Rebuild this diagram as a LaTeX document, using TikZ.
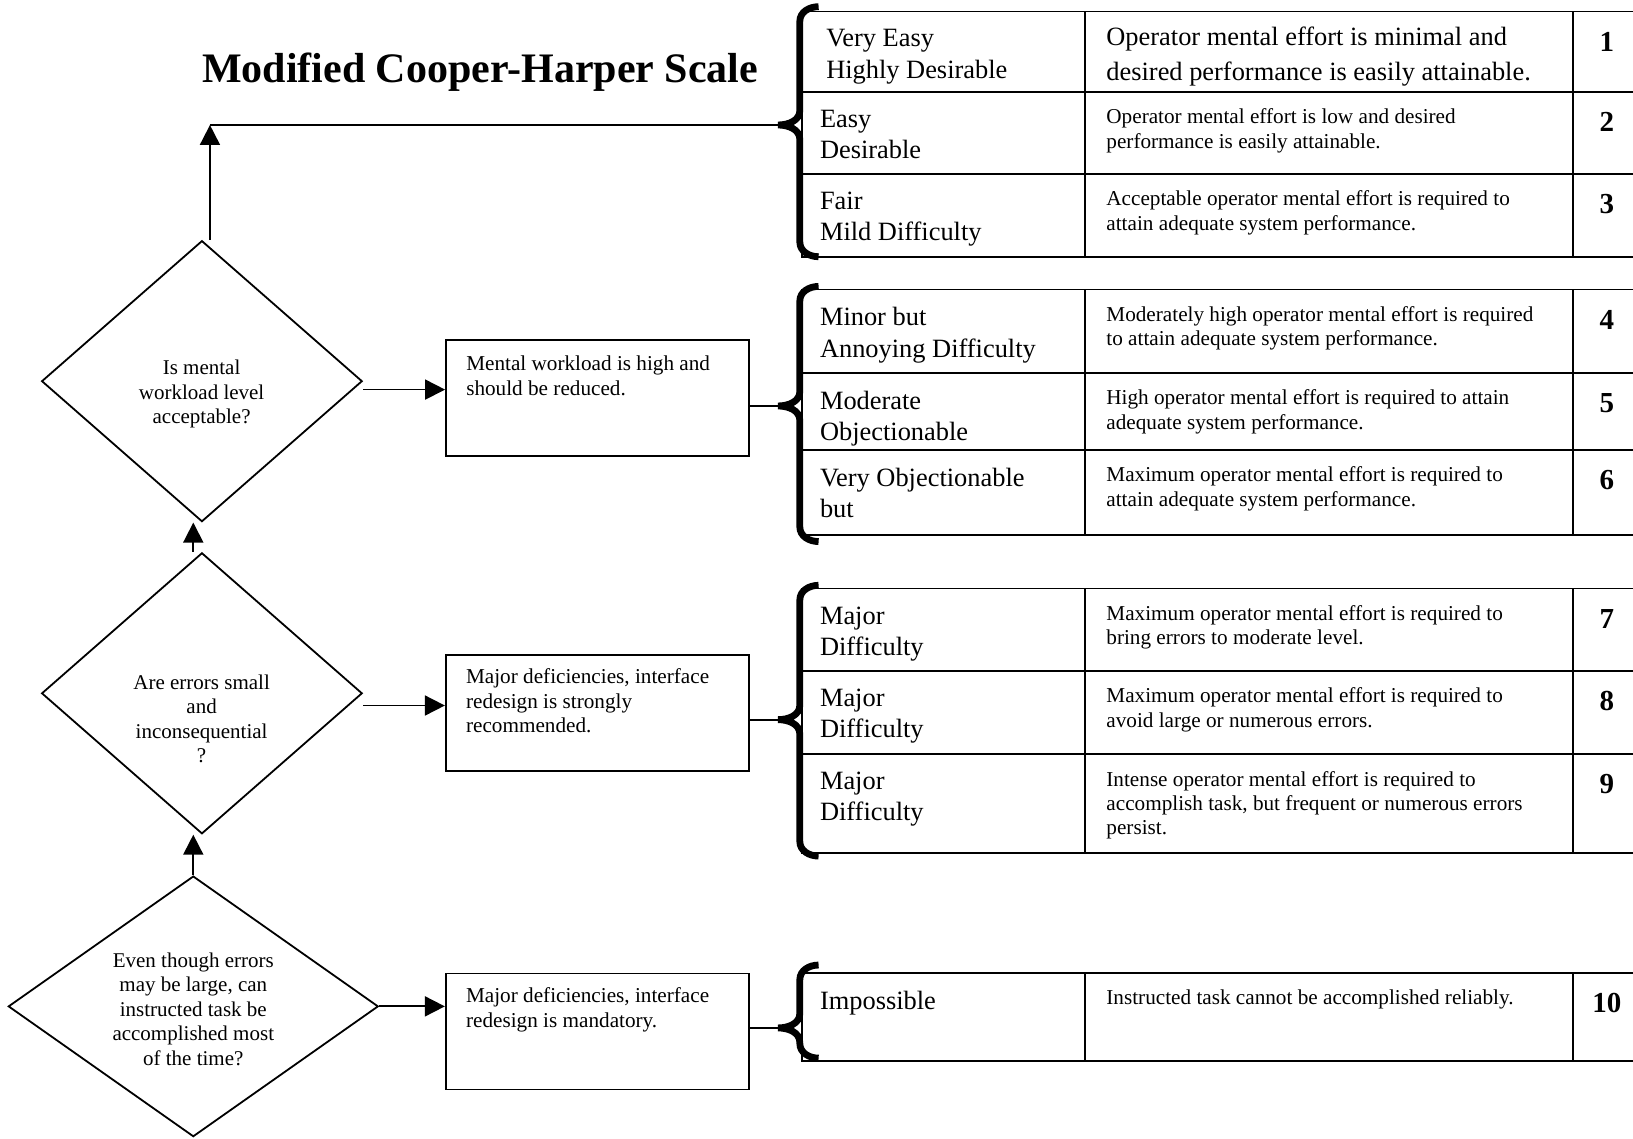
\documentclass[tikz,border=0pt]{standalone}
\usepackage{fontspec}
\setmainfont{Liberation Serif}
\usetikzlibrary{arrows.meta,positioning,shapes.geometric}
\tikzstyle{mchline}=[line width=0.9pt]
\tikzstyle{mcharrow}=[mchline,-{Triangle[length=10pt,width=10pt]}]
\tikzstyle{mchdiamond}=[diamond,draw,line width=0.9pt,inner sep=0pt]
\tikzstyle{mchbox}=[draw,line width=0.9pt,minimum width=151.5pt,minimum height=58pt,inner sep=0pt]
\tikzstyle{qtext}=[align=center,inner sep=0pt,font=\fontsize{10.5}{12.25}\selectfont]
\tikzstyle{btext}=[align=left,inner sep=0pt,font=\fontsize{10.6}{12.2}\selectfont]
\tikzstyle{ratetext}=[align=left,inner sep=0pt,anchor=north west,font=\fontsize{13.2}{15.6}\selectfont]
\tikzstyle{desctext}=[align=left,inner sep=0pt,anchor=north west,font=\fontsize{10.6}{12.2}\selectfont]
\tikzstyle{numtext}=[inner sep=0pt,font=\fontsize{14.5}{16}\selectfont\bfseries]
\tikzstyle{bracket}=[line width=3.4pt]

\begin{document}
\begin{tikzpicture}[x=0.52075pt,y=-0.52075pt]
    \useasboundingbox (0,0) rectangle (1568,1093);
    \node[font=\fontsize{21}{25}\selectfont\bfseries] (title) at (461,69) {Modified Cooper-Harper Scale};
    % decision chain
    \node[mchdiamond,minimum width=160.3pt,minimum height=140.5pt] (d1) at (193.9,366) {};
    \node[mchdiamond,minimum width=160.3pt,minimum height=140.5pt] (d2) at (193.9,665.7) {};
    \node[mchdiamond,minimum width=185pt,minimum height=130.3pt] (d3) at (185.6,966.3) {};
    \node[qtext] (q1) at (193.6,378.7) {Is mental\\workload level\\acceptable?};
    \node[qtext] (q2) at (193.6,690) {Are errors small\\and\\inconsequential\\?};
    \node[qtext] (q3) at (185.6,968.9) {Even though errors\\may be large, can\\instructed task be\\accomplished most\\of the time?};
    \node[mchbox] (b1) at (573.7,382.2) {};
    \node[mchbox] (b2) at (573.5,684.5) {};
    \node[mchbox] (b3) at (573.5,990.5) {};
    \node[btext,below right=8.3pt and 10.4pt of b1.north west] (b1text) {Mental workload is high and\\should be reduced.};
    \node[btext,below right=7.3pt and 10.4pt of b2.north west] (b2text) {Major deficiencies, interface\\redesign is strongly\\recommended.};
    \node[btext,below right=7.3pt and 10.4pt of b3.north west] (b3text) {Major deficiencies, interface\\redesign is mandatory.};
    % rating table
    \draw[mchline] (770,11) rectangle (1510,88) (1042,11) -- (1042,88) (1510,11) -- (1568,11) (1510,88) -- (1568,88);
    \node[ratetext] (rate1) at (793,28) {Very Easy\\Highly Desirable};
    \node[ratetext,font=\fontsize{13.2}{17.7}\selectfont] (desc1) at (1062,25) {Operator mental effort is minimal and\\desired performance is easily attainable.};
    \node[numtext] (num1) at (1543,40) {1};
    \foreach \rtop/\rbot/\rate/\desc/\num in {
        88/167/{Easy\\Desirable}/{Operator mental effort is low and desired\\performance is easily attainable.}/2,
        167/247/{Fair\\Mild Difficulty}/{Acceptable operator mental effort is required to\\attain adequate system performance.}/3,
        278/358/{Minor but\\Annoying Difficulty}/{Moderately high operator mental effort is required\\to attain adequate system performance.}/4,
        358/432/{Moderate\\Objectionable}/{High operator mental effort is required to attain\\adequate system performance.}/5,
        432/514/{Very Objectionable\\but}/{Maximum operator mental effort is required to\\attain adequate system performance.}/6,
        565/644/{Major\\Difficulty}/{Maximum operator mental effort is required to\\bring errors to moderate level.}/7,
        644/724/{Major\\Difficulty}/{Maximum operator mental effort is required to\\avoid large or numerous errors.}/8,
        724/819/{Major\\Difficulty}/{Intense operator mental effort is required to\\accomplish task, but frequent or numerous errors\\persist.}/9,
        934/1019/{Impossible}/{Instructed task cannot be accomplished reliably.}/10}
    {
        \draw[mchline] (770,\rtop) rectangle (1510,\rbot) (1042,\rtop) -- (1042,\rbot) (1510,\rtop) -- (1568,\rtop) (1510,\rbot) -- (1568,\rbot);
        \node[ratetext] (rate\num) at (787,\rtop+17) {\rate};
        \node[desctext] (desc\num) at (1062,\rtop+16) {\desc};
        \node[numtext] (num\num) at (1543,\rtop+29) {\num};
    }
    % braces
    \foreach \btop/\bmid/\bbot [count=\k] in {6.4/120/246.5, 275/389.8/520, 562/691/822, 926.6/987/1016} {
        \coordinate (tip\k) at (747,\bmid);
        \draw[bracket] (786,\btop) to[out=180,in=90] (768,\btop+14) -- (768,\bmid-14) to[out=270,in=0] (tip\k)
            to[out=0,in=90] (768,\bmid+14) -- (768,\bbot-14) to[out=270,in=180] (786,\bbot);
    }
    % connectors
    \coordinate (turn) at (201.6,120);
    \draw[mcharrow] (turn |- d1.north) -- (turn);
    \draw[mchline] (turn) -- (tip1);
    \draw[mcharrow] (d2.north -| d3.north) -- (d3.north |- d1.south);
    \draw[mcharrow] (d3.north) -- (d3.north |- d2.south);
    \coordinate (a1) at ([yshift=-4.2pt]d1.east);
    \coordinate (a2) at ([yshift=-6.1pt]d2.east);
    \draw[mcharrow] (a1) -- (a1 -| b1.west);
    \draw[mcharrow] (a2) -- (a2 -| b2.west);
    \draw[mcharrow] (d3.east) -- (d3.east -| b3.west);
    \draw[mchline] (b1.east |- tip2) -- (tip2);
    \draw[mchline] (b2.east |- tip3) -- (tip3);
    \draw[mchline] (b3.east |- tip4) -- (tip4);
\end{tikzpicture}
\end{document}
